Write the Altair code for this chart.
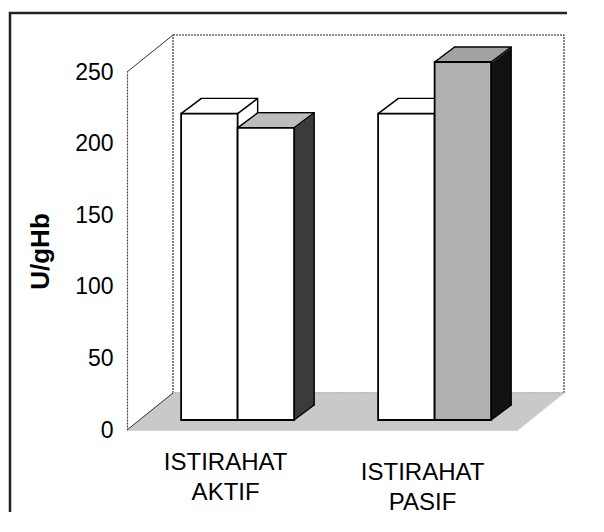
import altair as alt
import pandas as pd

# ---- data ----
categories = ["ISTIRAHAT AKTIF", "ISTIRAHAT PASIF"]
series_names = ["Seri 1", "Seri 2"]
series1_values = [214, 214]
series2_values = [204, 250]
y_ticks = [0, 50, 100, 150, 200, 250]

rows = []
for name, vals in zip(series_names, [series1_values, series2_values]):
    for c, v in zip(categories, vals):
        rows.append({"cat": c, "series": name, "value": v})
df = pd.DataFrame(rows)
one = pd.DataFrame({"d": [0]})

# ---- geometry / style ----
W, H = 391, 358
BW = 56.5            # bar width (px)
BX, BY = 12, -10     # bar plane shift inside the floor depth
DX, DY = 20, 15      # bar depth
N = 20
FX, FY = 46, 37      # wall / floor depth
FN = 37
FONT = "Liberation Sans"

front_cols = [("white", "white"), ("white", "#b0b0b0")]
top_cols = [("white", "white"), ("#bdbdbd", "#a3a3a3")]
side_cols = [("white", "white"), ("#3c3c3c", "#111111")]
cx = [-BW / 2, BW / 2]

y_scale = alt.Scale(domain=[0, 250], nice=False, zero=True)
y_axis = alt.Axis(values=y_ticks, title="U/gHb", titleFont=FONT, titleFontSize=26,
                  titleFontWeight="bold", titleColor="black", titleX=-74,
                  titleBaseline="bottom", labelFont=FONT, labelFontSize=23,
                  labelColor="black", labelPadding=14, ticks=False, grid=False,
                  domainColor="#444", domainDash=[2, 1], domainWidth=1.2)
x_scale = alt.Scale(domain=categories, paddingInner=0.4264, paddingOuter=0.2056, align=0.52)
x_axis = alt.Axis(title=None, domain=False, ticks=False, grid=False, labelFont=FONT,
                  labelFontSize=24, labelColor="black", labelAngle=0,
                  labelExpr="split(datum.label, ' ')", labelLineHeight=30,
                  labelBaseline="top",
                  labelPadding={"condition": {"test": f"datum.value == '{categories[1]}'", "value": 30}, "value": 20})

X = alt.X("cat:N", scale=x_scale, axis=x_axis, sort=categories)
Yv = alt.Y("value:Q", scale=y_scale, axis=y_axis)


def Yd(v):
    return alt.Y(datum=v, scale=y_scale, axis=y_axis)


def fill_of(pair):
    return alt.when(alt.datum.cat == categories[1]).then(alt.value(pair[1])).otherwise(alt.value(pair[0]))


def ser(i):
    return alt.Chart().transform_filter(alt.datum.series == series_names[i])


layers = []

# outer frame of the figure: only its top and left sides are stroked
FR_X0, FR_X1, FR_Y0, FR_Y1 = -117, 440, -59, 440
fw, fh = FR_X1 - FR_X0, FR_Y1 - FR_Y0
layers.append(alt.Chart(one).mark_rect(fillOpacity=0, stroke="#222", strokeWidth=2.5,
                                       strokeDash=[fw, fw + fh, fh]).encode(
    x=alt.value(FR_X0), x2=alt.value(FR_X1), y=alt.value(FR_Y0), y2=alt.value(FR_Y1)))

# back wall
layers.append(alt.Chart(one).mark_rect(fill="white", stroke="#222", strokeDash=[2, 1], strokeWidth=1.1,
                                       xOffset=FX, x2Offset=FX, yOffset=-FY, y2Offset=-FY).encode(
    x=alt.value(0), x2=alt.value("width"), y=Yd(0), y2=alt.Y2(datum=250)))

# floor
for k in range(FN, -1, -1):
    o = k * FX / FN
    layers.append(alt.Chart(one).mark_rule(color="#c6c6c6", strokeWidth=1.6,
                                           xOffset=o, x2Offset=o, yOffset=-k, y2Offset=-k).encode(
        x=alt.value(0), x2=alt.value("width"), y=Yd(0)))

# left wall edges
for v in (0, 250):
    layers.append(alt.Chart(one).mark_rule(color="#333", strokeWidth=1, x2Offset=FX, y2Offset=-FY).encode(
        x=alt.value(0), x2=alt.value(0), y=Yd(v), y2=alt.Y2(datum=v)))

# side/top volume of each bar (extruded copies)
for k in range(N, 0, -1):
    ox = BX + k * DX / N
    oy = BY - k * DY / N
    for i in range(2):
        kw = dict(width=BW, xOffset=cx[i] + ox, yOffset=oy, y2Offset=oy)
        if k == N:
            kw.update(stroke="black", strokeWidth=1.5)
        layers.append(ser(i).mark_bar(**kw).encode(x=X, y=Yv, fill=fill_of(side_cols[i])))

# top faces
for k in range(N - 1, 0, -1):
    ox = BX + k * DX / N
    oy = BY - k * DY / N
    for i in range(2):
        layers.append(ser(i).mark_bar(width=BW, xOffset=cx[i] + ox, yOffset=oy, y2Offset=oy + 1.4).encode(
            x=X, y=Yv, y2=alt.Y2("value"), fill=fill_of(top_cols[i])))

# depth edges
for i in range(2):
    left = cx[i] - BW / 2 + BX
    right = cx[i] + BW / 2 + BX
    for xo, yenc, y2enc in [(left, Yv, alt.Y2("value")), (right, Yv, alt.Y2("value")),
                            (right, Yd(0), alt.Y2(datum=0))]:
        layers.append(ser(i).mark_rule(color="black", strokeWidth=1.5, xOffset=xo, x2Offset=xo + DX,
                                       yOffset=BY, y2Offset=BY - DY).encode(
            x=X, x2=alt.X2("cat"), y=yenc, y2=y2enc))

# front faces
for i in range(2):
    layers.append(ser(i).mark_bar(width=BW, xOffset=cx[i] + BX, yOffset=BY, y2Offset=BY,
                                  stroke="black", strokeWidth=1.8).encode(
        x=X, y=Yv, fill=fill_of(front_cols[i])))

chart = alt.layer(*layers, data=df).properties(
    width=W, height=H,
    autosize=alt.AutoSizeParams(type="none"),
    padding={"left": 119, "top": 64, "right": 70, "bottom": 90},
    background="white",
).configure_view(stroke=None)

chart.save("out.html", embed_options={"renderer": "svg", "actions": False})
